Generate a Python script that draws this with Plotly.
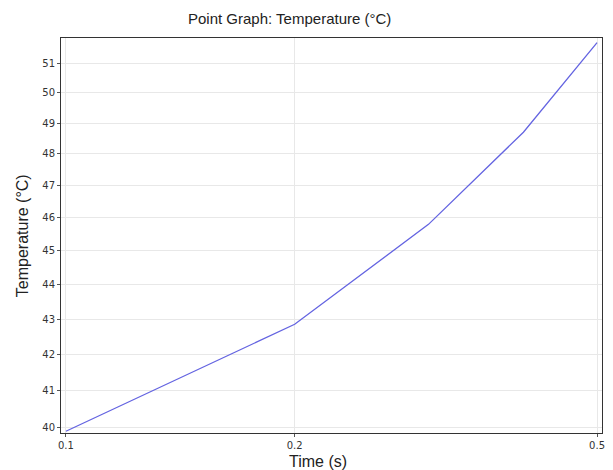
import numpy as np
import plotly.graph_objects as go

time_s = [0.1, 0.2, 0.3, 0.4, 0.5]
temperature_c = [39.9, 42.85, 45.8, 48.7, 51.7]
x_ticks = [0.1, 0.2, 0.5]
x_tick_labels = ["0.1", "0.2", "0.5"]
y_ticks = [40, 41, 42, 43, 44, 45, 46, 47, 48, 49, 50, 51]

fig = go.Figure()
fig.add_trace(go.Scatter(
    x=time_s, y=temperature_c, mode="lines",
    line=dict(color="rgb(100,100,225)", width=1.3),
    showlegend=False, hoverinfo="skip"))

W, H = 613, 470
L, R, T, B = 61, 8, 38, 37

fig.update_layout(
    width=W, height=H,
    margin=dict(l=L, r=R, t=T, b=B),
    paper_bgcolor="white", plot_bgcolor="white",
    font=dict(family="DejaVu Sans", size=10, color="#333333"),
    xaxis=dict(type="log", range=[-1.0065, np.log10(0.5) + 0.0065],
               tickvals=x_ticks, ticktext=x_tick_labels,
               showgrid=True, gridcolor="#e8e8e8", gridwidth=1,
               showline=True, linecolor="#333333", linewidth=1, mirror=True,
               ticks="outside", ticklen=3, tickcolor="#555555",
               tickfont=dict(family="DejaVu Sans", size=10, color="#333333"),
               zeroline=False),
    yaxis=dict(type="log", range=[1.60047, 1.71481],
               tickvals=y_ticks, ticktext=[str(v) for v in y_ticks],
               showgrid=True, gridcolor="#e8e8e8", gridwidth=1,
               showline=True, linecolor="#333333", linewidth=1, mirror=True,
               ticks="outside", ticklen=3, tickcolor="#555555",
               tickfont=dict(family="DejaVu Sans", size=10, color="#333333"),
               zeroline=False),
    annotations=[
        dict(text="Point Graph: Temperature (°C)", xref="paper", yref="paper",
             x=(291 - L) / (W - L - R), y=1 + (T - 19) / (H - T - B),
             xanchor="center", yanchor="middle", showarrow=False,
             font=dict(family="Liberation Sans", size=15, color="#222222")),
        dict(text="Time (s)", xref="paper", yref="paper",
             x=(319 - L) / (W - L - R), y=-(461 - (H - B)) / (H - T - B),
             xanchor="center", yanchor="middle", showarrow=False,
             font=dict(family="Liberation Sans", size=16, color="#222222")),
        dict(text="Temperature (°C)", xref="paper", yref="paper",
             x=-(L - 22) / (W - L - R), y=1 - (236 - T) / (H - T - B),
             xanchor="center", yanchor="middle", showarrow=False, textangle=-90,
             font=dict(family="Liberation Sans", size=16, color="#222222")),
    ],
)

fig.write_html("out.html")
